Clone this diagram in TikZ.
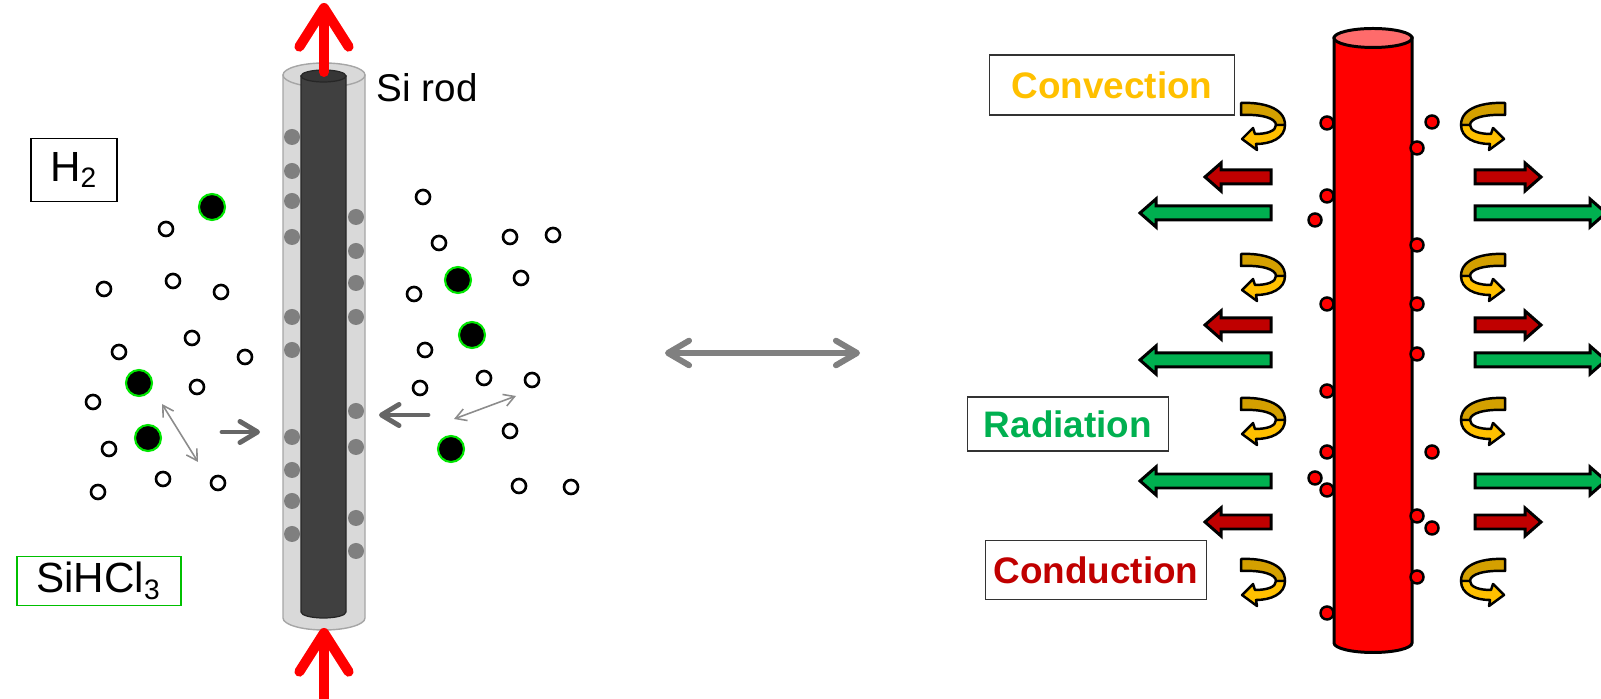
\documentclass[tikz,border=0pt]{standalone}
\usepackage{fontspec}
\setmainfont{Liberation Sans}
\usetikzlibrary{arrows.meta}

\definecolor{tubegris}{HTML}{D9D9D9}
\definecolor{tubebord}{HTML}{A6A6A6}
\definecolor{coeur}{HTML}{404040}
\definecolor{perle}{HTML}{7F7F7F}
\definecolor{molvert}{HTML}{00E600}
\definecolor{cadrevert}{HTML}{00C000}
\definecolor{flechegris}{HTML}{808080}
\definecolor{tige}{HTML}{FF0000}
\definecolor{tigehaut}{HTML}{FF6B6B}
\definecolor{convjaune}{HTML}{FFC000}
\definecolor{orfonce}{HTML}{D4A000}
\definecolor{radvert}{HTML}{00B050}
\definecolor{condrouge}{HTML}{C00000}

\tikzstyle{boite} = [rectangle, draw=black, line width=0.55pt, inner sep=0pt, text centered, font=\fontsize{12}{14}\selectfont]
\tikzstyle{etiquette} = [rectangle, draw=black!80, line width=0.55pt, inner sep=0pt, font=\fontsize{10.5}{12}\selectfont\bfseries]
\tikzstyle{molecule} = [circle, draw=black, fill=white, line width=0.75pt, minimum size=1.4mm, inner sep=0pt]
\tikzstyle{silane} = [circle, draw=molvert, fill=black, line width=0.6pt, minimum size=2.6mm, inner sep=0pt]
\tikzstyle{depot} = [circle, fill=perle, minimum size=1.6mm, inner sep=0pt]
\tikzstyle{goutte} = [circle, draw=black, fill=tige, line width=0.7pt, minimum size=1.3mm, inner sep=0pt]
\tikzstyle{courant} = [line width=2.85pt, draw=tige, line cap=round, -{Straight Barb[length=11pt, width=14pt, round]}]
\tikzstyle{echange} = [line width=1.7pt, draw=flechegris, line cap=round, {Straight Barb[length=6pt, width=7pt, round]}-{Straight Barb[length=6pt, width=7pt, round]}]
\tikzstyle{diffusion} = [line width=1.4pt, draw=black!60, line cap=round, -{Straight Barb[length=5pt, width=6pt, round]}]
\tikzstyle{choc} = [line width=0.45pt, draw=black!45, {Straight Barb[length=3pt, width=3.5pt]}-{Straight Barb[length=3pt, width=3.5pt]}]
\tikzstyle{flux} = [draw=black, line width=0.85pt]

% fleche pleine : queue, pointe, hauteur, remplissage
\newcommand{\flechechaleur}[4]{%
  \pgfmathsetmacro{\hb}{#2+16*sign((#1)-(#2))}%
  \filldraw[flux, #4] (#1,#3-7) -- (\hb,#3-7) -- (\hb,#3-14) -- (#2,#3) -- (\hb,#3+14) -- (\hb,#3+7) -- (#1,#3+7) -- cycle;}

% ruban de convection
\tikzset{
  pics/boucle/.style={code={
    \filldraw[fill=orfonce, flux, line width=0.7pt, line join=round]
      (0,2) .. controls (20,1) and (44,6) .. (44,24) -- (35,24) .. controls (35,17) and (20,13) .. (0,14) -- cycle;
    \filldraw[fill=convjaune, flux, line width=0.7pt, line join=round]
      (44,24) .. controls (44,37) and (30,43) .. (15,43) -- (16,49) -- (1,38) -- (12,27) -- (14,33) .. controls (26,33) and (35,30) .. (35,24) -- cycle;
  }}
}

\begin{document}
\begin{tikzpicture}[x=0.1mm, y=-0.1mm]
        \useasboundingbox (0,0) rectangle (1601,699);

        % barreau dans sa gaine
        \filldraw[fill=tubegris, draw=tubebord, line width=0.4pt] (283,75) -- (283,618) arc[start angle=180, end angle=0, x radius=41, y radius=12] -- (365,75) -- cycle;
        \filldraw[fill=tubegris, draw=tubebord, line width=0.4pt] (324,75) ellipse [x radius=41, y radius=12];
        \filldraw[fill=coeur, draw=black!85, line width=0.35pt] (301,76) -- (301,612) arc[start angle=180, end angle=0, x radius=22.5, y radius=6] -- (346,76) -- cycle;
        \filldraw[fill=coeur!85!black, draw=black!85, line width=0.35pt] (323.5,76) ellipse [x radius=22.5, y radius=6];

        \foreach \y [count=\i] in {137,171,201,237,317,350,437,470,501,534}
            \node (dg\i) [depot] at (292,\y) {};
        \foreach \y [count=\i] in {217,251,283,317,411,447,518,551}
            \node (dd\i) [depot] at (356,\y) {};

        \coordinate (coeurhaut) at (324,72);
        \coordinate (sortie) at (324,3);
        \coordinate (entree) at (324,710);
        \coordinate (coeurbas) at (324,628);
        \draw[courant] (coeurhaut) -- (sortie);
        \draw[courant] (entree) -- (coeurbas);

        \node (tige) [anchor=base west, inner sep=0pt, font=\fontsize{11}{13}\selectfont] at (376,102) {Si rod};
        \node (H2) [boite, minimum width=8.6mm, minimum height=6.3mm] at (74,170) {H\textsubscript{2}};
        \node (SiHCl3) [boite, draw=cadrevert, minimum width=16.4mm, minimum height=4.9mm] at (99,581) {SiHCl\textsubscript{3}};

        % gaz
        \foreach \x/\y [count=\i] in {166/229, 173/281, 104/289, 221/292, 192/338, 119/352, 245/357, 197/387, 93/402, 109/449, 163/479, 218/483, 98/492,
                                     423/197, 439/243, 510/237, 553/235, 521/278, 414/294, 425/350, 420/388, 484/378, 532/380, 510/431, 519/486, 571/487}
            \node (h\i) [molecule] at (\x,\y) {};
        \foreach \x/\y [count=\i] in {212/207, 139/383, 148/438, 458/280, 472/335, 451/449}
            \node (s\i) [silane] at (\x,\y) {};

        \coordinate (chocA) at (162,404);
        \coordinate (chocB) at (198,462);
        \coordinate (chocC) at (454,419);
        \coordinate (chocD) at (516,396);
        \draw[choc] (chocA) -- (chocB);
        \draw[choc] (chocC) -- (chocD);

        \coordinate (versG) at (222,432);
        \coordinate (arriveeG) at (260,432);
        \coordinate (versD) at (428,415);
        \coordinate (arriveeD) at (379,415);
        \draw[diffusion] (versG) -- (arriveeG);
        \draw[diffusion] (versD) -- (arriveeD);

        % equivalence
        \coordinate (gauche) at (665,353);
        \coordinate (droite) at (860,353);
        \draw[echange] (gauche) -- (droite);

        % transferts de chaleur, un cote puis son miroir
        \foreach \s in {1,-1} {
            \begin{scope}[shift={(1373,0)}, xscale=\s]
                \foreach \y in {177,325,522} {\flechechaleur{-102}{-168}{\y}{fill=condrouge}}
                \foreach \y in {213,360,481} {\flechechaleur{-102}{-233}{\y}{fill=radvert}}
                \foreach \y in {101,252,396,557} {\pic[transform shape] at (-132,\y) {boucle};}
            \end{scope}
        }

        % barreau chauffe
        \filldraw[fill=tige, flux] (1334,38) -- (1334,643) arc[start angle=180, end angle=0, x radius=39, y radius=9.5] -- (1412,38) -- cycle;
        \filldraw[fill=tigehaut, flux] (1373,38) ellipse [x radius=39, y radius=9.5];

        \foreach \x/\y [count=\i] in {1327/123, 1327/196, 1315/220, 1327/304, 1327/391, 1327/452, 1315/478, 1327/490, 1327/613,
                                     1417/148, 1432/122, 1417/245, 1417/304, 1417/354, 1432/452, 1417/516, 1432/528, 1417/577}
            \node (g\i) [goutte] at (\x,\y) {};

        \node (convection) [etiquette, minimum width=24.5mm, minimum height=6mm, text=convjaune] at (1112,85) {Convection};
        \node (radiation) [etiquette, minimum width=20.1mm, minimum height=5.4mm, text=radvert] at (1068,424) {Radiation};
        \node (conduction) [etiquette, minimum width=22.1mm, minimum height=5.9mm, text=condrouge] at (1096,570) {Conduction};

    \end{tikzpicture}
\end{document}
